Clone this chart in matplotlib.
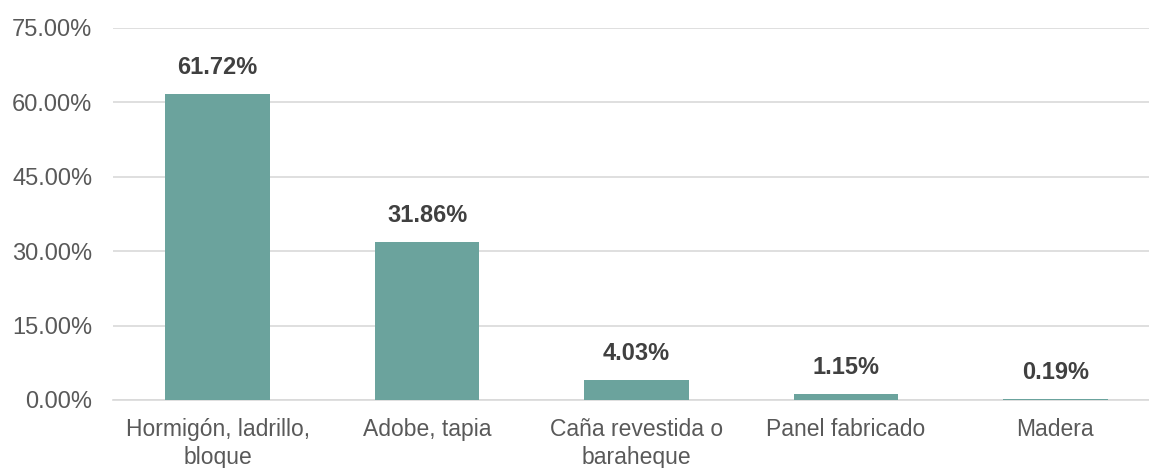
import matplotlib
matplotlib.use("Agg")
import matplotlib.pyplot as plt
from matplotlib.ticker import FuncFormatter

categories = ["Hormigón, ladrillo,\nbloque", "Adobe, tapia", "Caña revestida o\nbaraheque",
              "Panel fabricado", "Madera"]
values = [61.72, 31.86, 4.03, 1.15, 0.19]
yticks = [0, 15, 30, 45, 60, 75]

plt.rcParams['font.family'] = ['Liberation Sans', 'DejaVu Sans']

fig = plt.figure(figsize=(11.49, 4.68), dpi=100)
ax = fig.add_axes([113 / 1149, 68 / 468, 1047 / 1149, 372 / 468])

x = range(len(categories))
bars = ax.bar(x, values, width=0.50, color="#6BA39D", zorder=3)
ax.set_xlim(-0.5, len(categories) - 0.5)
ax.set_ylim(0, 75)
ax.set_yticks(yticks)
ax.yaxis.set_major_formatter(FuncFormatter(lambda v, p: f"{v:.2f}%"))
ax.set_xticks(list(x))
ax.set_xticklabels(categories, linespacing=1.25, fontsize=16.5)
ax.tick_params(axis="both", length=0, labelcolor="#595959")
ax.tick_params(axis="y", labelsize=17, pad=15)
ax.tick_params(axis="x", pad=13)
ax.grid(axis="y", color="#D9D9D9", linewidth=1.2, zorder=0)
for s in ["top", "right", "left"]:
    ax.spines[s].set_visible(False)
ax.spines["bottom"].set_color("#D9D9D9")
ax.spines["bottom"].set_linewidth(1.2)

for b, v in zip(bars, values):
    ax.annotate(f"{v:.2f}%", (b.get_x() + b.get_width() / 2, v), xytext=(0, 11),
                textcoords="offset points", ha="center", va="bottom",
                fontsize=17, fontweight="bold", color="#404040")

fig.savefig("out.png", dpi=100)
